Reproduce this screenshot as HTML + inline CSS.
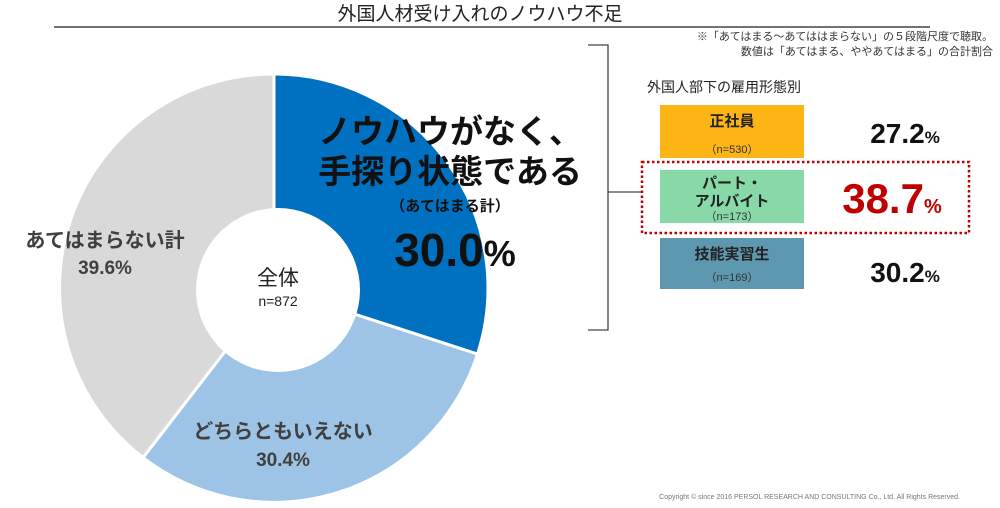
<!DOCTYPE html>
<html><head><meta charset="utf-8"><style>
body{margin:0;background:#fff;}
svg text{font-family:"Liberation Sans","Noto Sans CJK JP",sans-serif;}
</style></head><body>
<svg width="1000" height="503" viewBox="0 0 1000 503" xmlns="http://www.w3.org/2000/svg">
<text x="480" y="20" font-size="19" text-anchor="middle" fill="#222">外国人材受け入れのノウハウ不足</text>
<line x1="54" y1="27" x2="930" y2="27" stroke="#444" stroke-width="1.5"/>
<text x="993" y="40" font-size="11" text-anchor="end" fill="#333">※「あてはまる～あてははまらない」の５段階尺度で聴取。</text>
<text x="993" y="55" font-size="11" text-anchor="end" fill="#333">数値は「あてはまる、ややあてはまる」の合計割合</text>
<!-- donut -->
<g stroke="#fff" stroke-width="3">
<path d="M274 288 L274 74 A214 214 0 0 1 477.5 354.1 Z" fill="#0070c0"/>
<path d="M274 288 L477.5 354.1 A214 214 0 0 1 143.0 457.6 Z" fill="#9dc3e6"/>
<path d="M274 288 L143.0 457.6 A214 214 0 0 1 274 74 Z" fill="#d9d9d9"/>
</g>
<circle cx="278" cy="290" r="82" fill="#fff"/>
<text x="278" y="285" font-size="21" text-anchor="middle" fill="#222">全体</text>
<text x="278" y="306" font-size="14" text-anchor="middle" fill="#222">n=872</text>
<text x="105" y="247" font-size="20" font-weight="bold" text-anchor="middle" fill="#404040">あてはまらない計</text>
<text x="105" y="274" font-size="19" font-weight="bold" text-anchor="middle" fill="#404040">39.6%</text>
<text x="283" y="438" font-size="20" font-weight="bold" text-anchor="middle" fill="#404040">どちらともいえない</text>
<text x="283" y="466" font-size="19" font-weight="bold" text-anchor="middle" fill="#404040">30.4%</text>
<text x="450" y="143" font-size="33" font-weight="bold" text-anchor="middle" fill="#111">ノウハウがなく、</text>
<text x="450" y="183" font-size="33" font-weight="bold" text-anchor="middle" fill="#111">手探り状態である</text>
<text x="450" y="211" font-size="15" font-weight="bold" text-anchor="middle" fill="#111">（あてはまる計）</text>
<text x="455" y="266" font-size="46" font-weight="bold" text-anchor="middle" fill="#111">30.0<tspan font-size="36">%</tspan></text>
<!-- bracket -->
<polyline points="588,45 608,45 608,330 588,330" fill="none" stroke="#444" stroke-width="1.3"/>
<line x1="608" y1="192" x2="642" y2="192" stroke="#444" stroke-width="1.3"/>
<text x="647" y="92" font-size="14" fill="#222">外国人部下の雇用形態別</text>
<rect x="660" y="105" width="144" height="53" fill="#fdb515"/>
<text x="732" y="126" font-size="15" font-weight="bold" text-anchor="middle" fill="#222">正社員</text>
<text x="732" y="153" font-size="11" text-anchor="middle" fill="#333">（n=530）</text>
<rect x="660" y="170" width="144" height="53" fill="#88d8a8"/>
<text x="732" y="188" font-size="15" font-weight="bold" text-anchor="middle" fill="#222">パート・</text>
<text x="732" y="206" font-size="15" font-weight="bold" text-anchor="middle" fill="#222">アルバイト</text>
<text x="732" y="220" font-size="11" text-anchor="middle" fill="#333">（n=173）</text>
<rect x="660" y="238" width="144" height="51" fill="#5e97b0"/>
<text x="732" y="259" font-size="15" font-weight="bold" text-anchor="middle" fill="#222">技能実習生</text>
<text x="732" y="281" font-size="11" text-anchor="middle" fill="#333">（n=169）</text>
<rect x="642" y="162" width="327" height="71" fill="none" stroke="#c00000" stroke-width="2.5" stroke-dasharray="2.5,2.5"/>
<text x="905" y="143" font-size="28" font-weight="bold" text-anchor="middle" fill="#111">27.2<tspan font-size="17">%</tspan></text>
<text x="892" y="213" font-size="42" font-weight="bold" text-anchor="middle" fill="#c00000">38.7<tspan font-size="20">%</tspan></text>
<text x="905" y="282" font-size="28" font-weight="bold" text-anchor="middle" fill="#111">30.2<tspan font-size="17">%</tspan></text>
<text x="960" y="499" font-size="7" text-anchor="end" fill="#777">Copyright © since 2016  PERSOL  RESEARCH AND CONSULTING Co., Ltd. All Rights Reserved.</text>
</svg>
</body></html>
